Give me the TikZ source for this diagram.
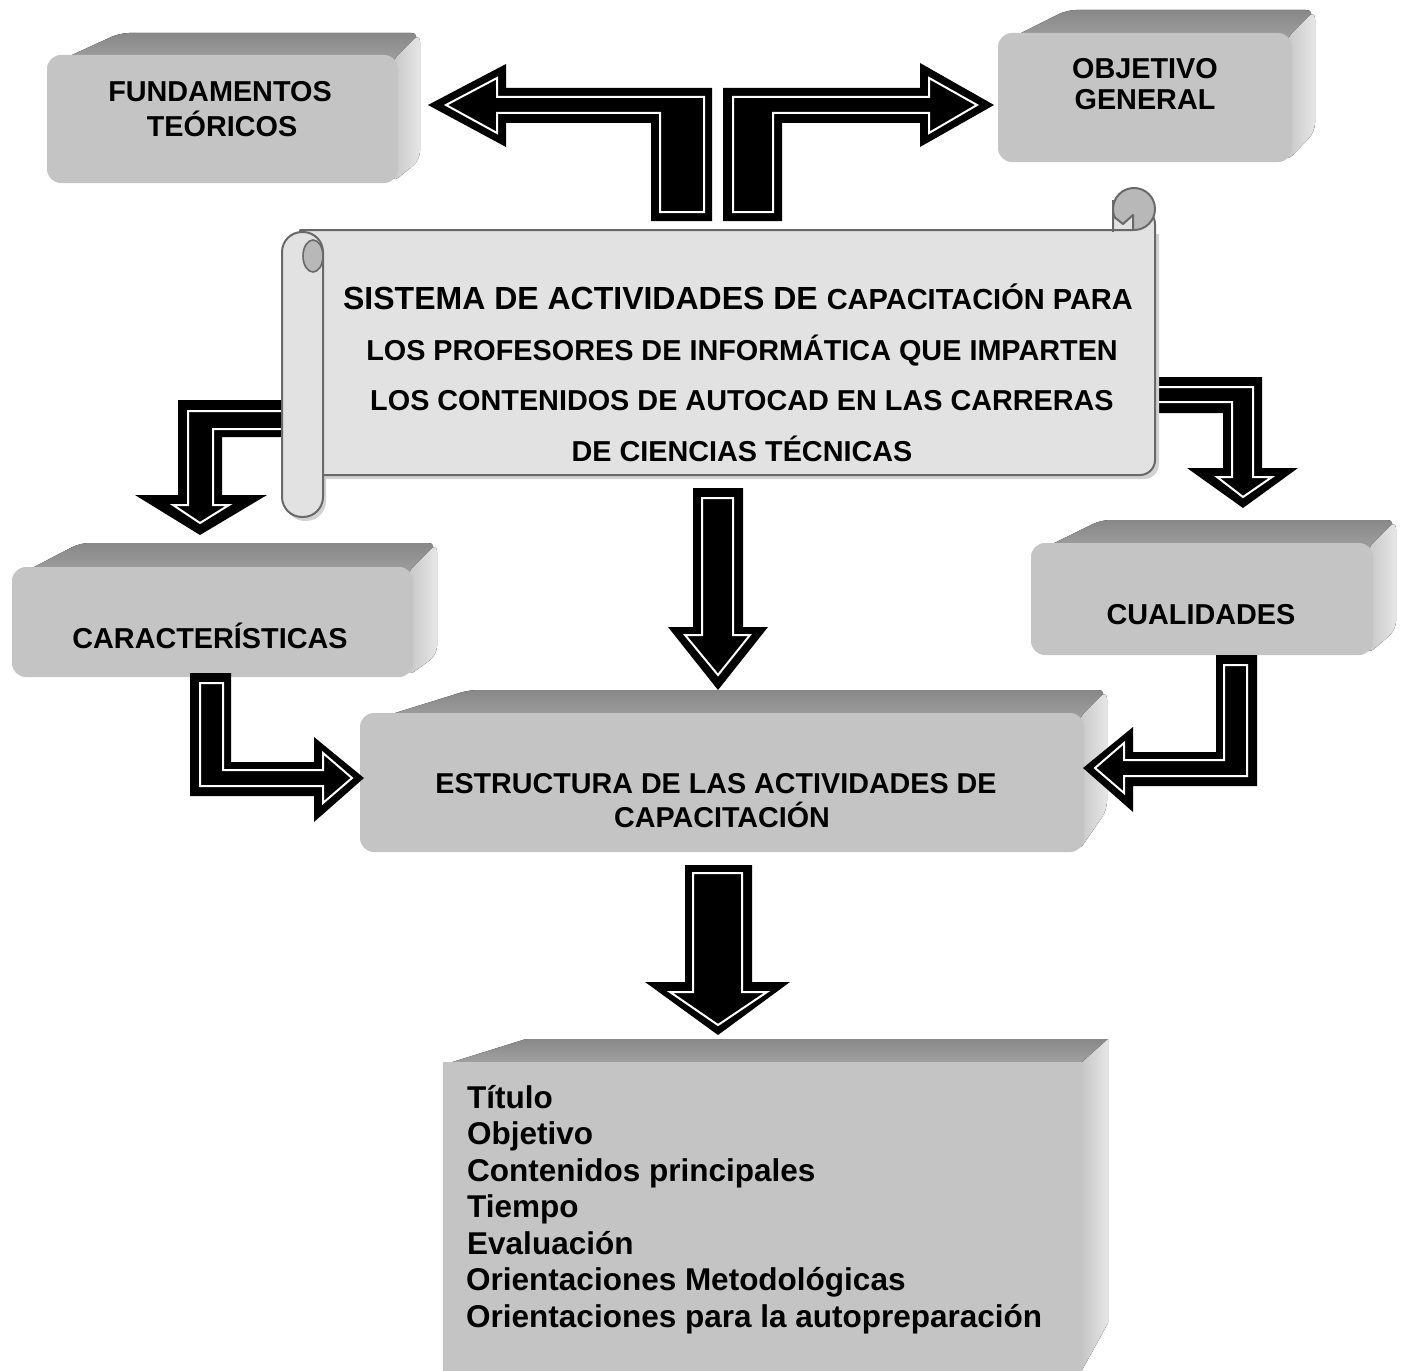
\documentclass[tikz,border=0pt]{standalone}
\usepackage{fontspec}
\setmainfont{Liberation Sans}
\definecolor{frontc}{RGB}{196,196,196}
\definecolor{topA}{RGB}{136,136,136}
\definecolor{topB}{RGB}{162,162,162}
\definecolor{sideA}{RGB}{198,198,198}
\definecolor{sideB}{RGB}{230,230,230}
\definecolor{scrollc}{RGB}{226,226,226}
\definecolor{scrolld}{RGB}{184,184,184}
\definecolor{scrolll}{RGB}{105,105,105}
\newcommand\bevbox[7]{%
  \fill[top color=topA, bottom color=topB, rounded corners=9] ({#1+3},{#2+10}) -- ({#1+#6},{#2-#5}) -- ({#3+#5},{#2-#5}) -- ({#3},{#2+10}) -- cycle;
  \fill[left color=sideA, right color=sideB, rounded corners=9] ({#3-6},{#2+6}) -- ({#3+#5},{#2-#5}) -- ({#3+#5},{#4-#7}) -- ({#3-6},{#4}) -- cycle;
  \fill[frontc, rounded corners=14] (#1,#2) rectangle (#3,#4);
}
\tikzset{
  boxtext/.style={font=\bfseries\fontsize{28.8}{34}\selectfont, inner sep=0pt, anchor=base},
  scrtext/.style={font=\bfseries\fontsize{28.8}{34}\selectfont, inner sep=0pt, anchor=base},
  listtext/.style={font=\bfseries\fontsize{31.5}{36}\selectfont, inner sep=0pt, anchor=base west},
  arrowline/.style={white, line width=2pt, line join=miter},
  scrollstyle/.style={fill=scrollc, draw=scrolll, line width=2pt, line join=round}
}
\begin{document}
\begin{tikzpicture}[x=1pt,y=-1pt]
\useasboundingbox (0,0) rectangle (1404,1370);
\fill[white] (0,0) rectangle (1404,1370);

% top boxes
\bevbox{47}{55}{398}{183}{22}{73}{23}
\node[boxtext] (fund1) at (220,102) {FUNDAMENTOS};
\node[boxtext] (fund2) at (222,136) {TEÓRICOS};
\bevbox{998}{33}{1292}{162}{23}{69}{30}
\node[boxtext] (obj1) at (1145,79) {OBJETIVO};
\node[boxtext] (obj2) at (1145,110) {GENERAL};

% top arrows
\fill (428,105) -- (506,64) -- (506,88) -- (712,88) -- (712,221) -- (651,221) -- (651,123) -- (506,123) -- (506,147) -- cycle;
\draw[arrowline] (446,105) -- (497,78) -- (497,97) -- (704,97) -- (704,212) -- (660,212) -- (660,113) -- (497,113) -- (497,133) -- cycle;
\fill (994,105) -- (920,63) -- (920,88) -- (723,88) -- (723,221) -- (782,221) -- (782,123) -- (920,123) -- (920,147) -- cycle;
\draw[arrowline] (977,105) -- (929,78) -- (929,97) -- (733,97) -- (733,212) -- (773,212) -- (773,113) -- (929,113) -- (929,133) -- cycle;

% side arrows behind scroll
\fill (300,400) -- (178,400) -- (178,495) -- (135,495) -- (200,535) -- (267,495) -- (222,495) -- (222,437) -- (300,437) -- cycle;
\draw[arrowline] (300,411) -- (188,411) -- (188,505) -- (173,505) -- (200,523) -- (229,505) -- (213,505) -- (213,429) -- (300,429);
\fill (1140,377) -- (1262,377) -- (1262,468) -- (1298,468) -- (1243,508) -- (1187,468) -- (1223,468) -- (1223,413) -- (1140,413) -- cycle;
\draw[arrowline] (1140,387) -- (1253,387) -- (1253,477) -- (1272,477) -- (1243,497) -- (1217,477) -- (1232,477) -- (1232,402) -- (1140,402);

% scroll shadow
\fill[gray!35] (304,234) -- (1159,234) -- (1159,464) [rounded corners=15] -- (1159,479) -- (304,479) [sharp corners] -- cycle;
\fill[gray!35, rounded corners=20] (285,236) rectangle (326,521);
% scroll body
\filldraw[scrollstyle] (1113,209) -- (1113,230) -- (300,230) -- (300,475) [rounded corners=15] -- (1155,475) -- (1155,209) [sharp corners] -- cycle;
\filldraw[fill=scrolld, draw=scrolll, line width=2pt] (1134,209) circle (21);
\filldraw[scrollstyle] (1113,216) -- (1123,224) -- (1133,215) -- (1133,230) -- (1113,230) -- cycle;
\draw[draw=scrolll, line width=2pt] (1113,200) -- (1113,232);
\filldraw[scrollstyle, rounded corners=20] (282,232) rectangle (323,517);
\filldraw[fill=scrolld, draw=scrolll, line width=1.6pt] (313,256) ellipse (10 and 16);

\node[inner sep=0pt, anchor=base] (sist1) at (738,309) {\bfseries{\fontsize{32}{36}\selectfont SISTEMA DE ACTIVIDADES DE }{\fontsize{29}{34}\selectfont CAPACITACIÓN PARA}};
\node[scrtext] (sist2) at (742,360) {LOS PROFESORES DE INFORMÁTICA QUE IMPARTEN};
\node[scrtext] (sist3) at (742,410) {LOS CONTENIDOS DE AUTOCAD EN LAS CARRERAS};
\node[scrtext] (sist4) at (742,461) {DE CIENCIAS TÉCNICAS};

% centre arrow
\fill (693,488) -- (743,488) -- (743,627) -- (768,627) -- (718,690) -- (668,627) -- (693,627) -- cycle;
\draw[arrowline] (702,498) -- (733,498) -- (733,635) -- (750,635) -- (718,675) -- (685,635) -- (702,635) -- cycle;

% middle boxes
\bevbox{12}{567}{413}{677}{24}{68}{22}
\node[boxtext] (carac) at (210,648) {CARACTERÍSTICAS};
\bevbox{1031}{543}{1373}{655}{23}{70}{25}
\node[boxtext] (cual) at (1201,624) {CUALIDADES};
\bevbox{360}{713}{1084}{852}{23}{109}{42}
\node[boxtext, font=\bfseries\fontsize{28.7}{34}\selectfont] (estr1) at (716,793) {ESTRUCTURA DE LAS ACTIVIDADES DE};
\node[boxtext, font=\bfseries\fontsize{28.7}{34}\selectfont] (estr2) at (722,827) {CAPACITACIÓN};

% L arrows
\fill (190,673) -- (231,673) -- (231,762) -- (314,762) -- (314,737) -- (364,778) -- (314,822) -- (314,796) -- (190,796) -- cycle;
\draw[arrowline] (200,683) -- (223,683) -- (223,770) -- (323,770) -- (323,753) -- (352,778) -- (323,803) -- (323,786) -- (200,786) -- cycle;
\fill (1257,655) -- (1216,655) -- (1216,752) -- (1133,752) -- (1133,727) -- (1083,768) -- (1133,812) -- (1133,786) -- (1257,786) -- cycle;
\draw[arrowline] (1247,665) -- (1224,665) -- (1224,760) -- (1124,760) -- (1124,743) -- (1095,768) -- (1124,793) -- (1124,776) -- (1247,776) -- cycle;

% lower arrow
\fill (685,865) -- (752,865) -- (752,982) -- (790,982) -- (718,1035) -- (645,982) -- (685,982) -- cycle;
\draw[arrowline] (693,873) -- (742,873) -- (742,992) -- (767,992) -- (718,1025) -- (670,992) -- (693,992) -- cycle;

% bottom box
\fill[top color=topA, bottom color=topB] (446,1064) -- (526,1039) -- (1108,1039) -- (1082,1062) -- cycle;
\fill[left color=sideA, right color=sideB] (1082,1062) -- (1108,1039) -- (1108,1323) -- (1082,1370) -- cycle;
\fill[frontc] (443,1062) rectangle (1082,1375);
\node[listtext] (l1) at (467,1108) {Título};
\node[listtext] (l2) at (467,1144.5) {Objetivo};
\node[listtext] (l3) at (467,1181) {Contenidos principales};
\node[listtext] (l4) at (467,1217.5) {Tiempo};
\node[listtext] (l5) at (467,1254) {Evaluación};
\node[listtext] (l6) at (466,1290.5) {Orientaciones Metodológicas};
\node[listtext] (l7) at (466,1327) {Orientaciones para la autopreparación};
\end{tikzpicture}
\end{document}
